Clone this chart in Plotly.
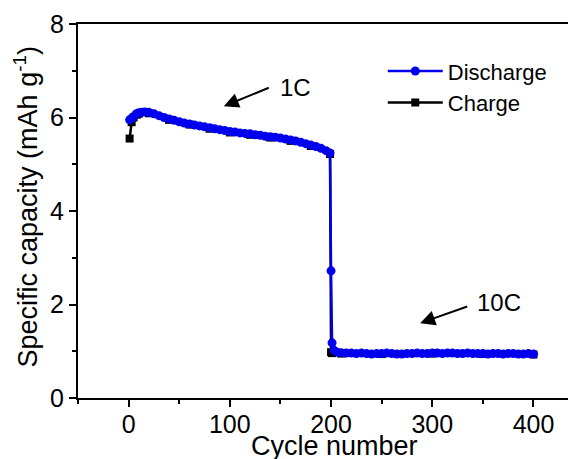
import plotly.graph_objects as go

d_cycles = [1, 3, 5, 8, 10, 13, 16, 20, 25, 30, 35, 40, 45, 50, 55, 60, 65, 70, 75, 80, 85, 90, 95,
            100, 105, 110, 115, 120, 125, 130, 135, 140, 145, 150, 155, 160, 165, 170, 175, 180,
            185, 190, 195, 199, 200, 201, 203, 206, 210, 215, 220, 225, 230, 235, 240, 245, 250,
            255, 260, 265, 270, 275, 280, 285, 290, 295, 300, 305, 310, 315, 320, 325, 330, 335,
            340, 345, 350, 355, 360, 365, 370, 375, 380, 385, 390, 395, 400]
d_values = [5.95, 5.98, 6.02, 6.08, 6.10, 6.11, 6.12, 6.11, 6.08, 6.04, 6.00, 5.97, 5.94, 5.91,
            5.88, 5.86, 5.84, 5.82, 5.80, 5.78, 5.76, 5.74, 5.72,
            5.70, 5.69, 5.67, 5.66, 5.65, 5.63, 5.62, 5.60, 5.59, 5.58, 5.56, 5.54, 5.52, 5.50,
            5.47, 5.44, 5.41, 5.38, 5.34, 5.29, 5.24, 2.72, 1.18, 1.02, 0.98, 0.97, 0.96, 0.96,
            0.95, 0.96, 0.95, 0.94, 0.95, 0.95, 0.96, 0.95, 0.94, 0.94, 0.95, 0.95, 0.96, 0.95,
            0.95, 0.96, 0.96, 0.95, 0.96, 0.96, 0.95, 0.95, 0.96, 0.95, 0.95, 0.95, 0.94, 0.95,
            0.95, 0.94, 0.95, 0.95, 0.94, 0.94, 0.95, 0.94]

c_cycles = [1, 3, 5, 8, 10, 20, 40, 60, 80, 100, 120, 140, 160, 180, 199, 200, 201, 210, 250, 300, 350, 400]
c_values = [5.55, 5.9, 6.0, 6.06, 6.08, 6.09, 5.95, 5.85, 5.76, 5.68, 5.63, 5.57, 5.50, 5.39, 5.22,
            0.98, 0.96, 0.95, 0.94, 0.95, 0.94, 0.93]

x_ticks = [0, 100, 200, 300, 400]
y_ticks = [0, 2, 4, 6, 8]
x_title = "Cycle number"
y_title = "Specific capacity (mAh g<sup>-1</sup>)"

FONT = "Liberation Sans, Arial, sans-serif"

fig = go.Figure()
fig.add_trace(go.Scatter(
    x=c_cycles, y=c_values, name="Charge", mode="lines+markers",
    line=dict(color="black", width=2.5),
    marker=dict(symbol="square", size=8, color="black"),
))
fig.add_trace(go.Scatter(
    x=d_cycles, y=d_values, name="Discharge", mode="lines+markers",
    line=dict(color="#0000ee", width=2.5),
    marker=dict(symbol="circle", size=9, color="#0000ee"),
))

# the page has an 8px body margin, so the figure is 8px smaller and offset
fig.update_layout(
    width=568, height=451,
    margin=dict(l=70, r=0, t=16, b=61),
    paper_bgcolor="white", plot_bgcolor="white",
    font=dict(family=FONT, size=25, color="black"),
    showlegend=True,
    legend=dict(
        x=0.612, y=0.93, xanchor="left", yanchor="top",
        traceorder="reversed",
        font=dict(size=22, family=FONT),
        bgcolor="rgba(0,0,0,0)",
        itemwidth=55,
        tracegroupgap=0,
    ),
    xaxis=dict(
        range=[-50, 442], tickvals=x_ticks, automargin=False,
        showline=True, linecolor="black", linewidth=2, mirror=True,
        ticks="outside", ticklen=7, tickwidth=2, tickcolor="black",
        minor=dict(dtick=50, tick0=0, ticks="outside", ticklen=4, tickwidth=2, tickcolor="black"),
        showgrid=False, zeroline=False,
        tickfont=dict(size=25),
        ticklabelstandoff=-4,
    ),
    yaxis=dict(
        range=[0, 8], tickvals=y_ticks, automargin=False,
        showline=True, linecolor="black", linewidth=2, mirror=False,
        ticks="outside", ticklen=7, tickwidth=2, tickcolor="black",
        minor=dict(dtick=1, tick0=0, ticks="outside", ticklen=4, tickwidth=2, tickcolor="black"),
        showgrid=False, zeroline=False,
        tickfont=dict(size=25),
    ),
)

# Axis titles
fig.add_annotation(x=0.516, y=-0.128, xref="paper", yref="paper", text=x_title,
                   showarrow=False, xanchor="center", yanchor="middle",
                   font=dict(size=27, family=FONT))
fig.add_annotation(x=-0.104, y=0.51, xref="paper", yref="paper", text=y_title,
                   showarrow=False, xanchor="center", yanchor="middle", textangle=-90,
                   font=dict(size=27, family=FONT))

# Arrows and labels
fig.add_annotation(x=94, y=6.24, ax=140, ay=6.65, axref="x", ayref="y", xref="x", yref="y",
                   text="", showarrow=True, arrowhead=2, arrowsize=1.5, arrowwidth=2, arrowcolor="black")
fig.add_annotation(x=165, y=6.64, xref="x", yref="y", text="1C", showarrow=False,
                   font=dict(size=24, family=FONT))
fig.add_annotation(x=288, y=1.6, ax=336, ay=1.97, axref="x", ayref="y", xref="x", yref="y",
                   text="", showarrow=True, arrowhead=2, arrowsize=1.5, arrowwidth=2, arrowcolor="black")
fig.add_annotation(x=366, y=2.04, xref="x", yref="y", text="10C", showarrow=False,
                   font=dict(size=24, family=FONT))

fig.write_html("out.html")
